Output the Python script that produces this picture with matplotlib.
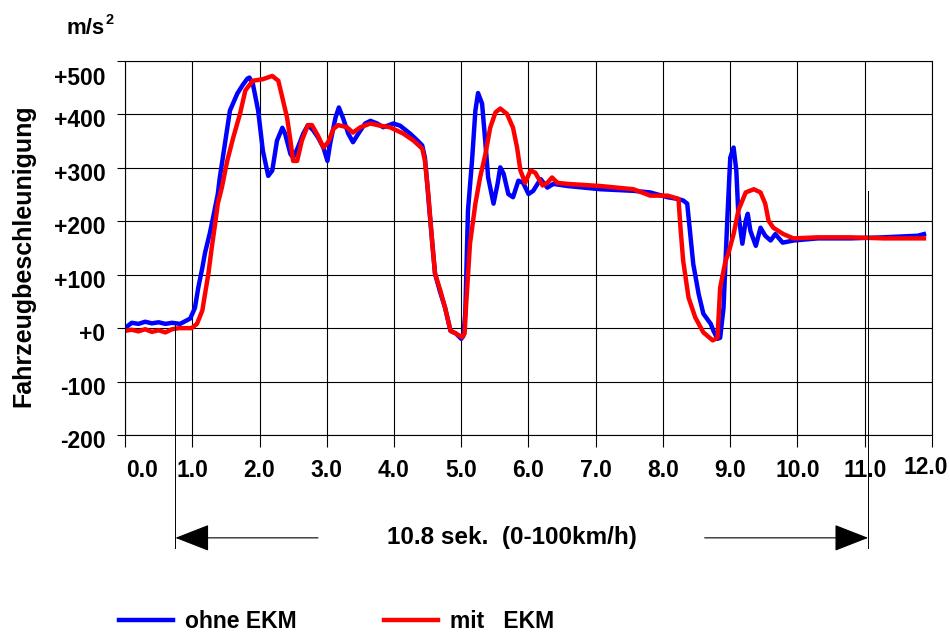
import matplotlib
matplotlib.use('Agg')
import matplotlib.pyplot as plt
from matplotlib.transforms import ScaledTranslation

plt.rcParams['font.family'] = ['Liberation Sans', 'DejaVu Sans']
plt.rcParams['font.weight'] = 'bold'

# Zeit (s) und Beschleunigung, ohne EKM (blau)
t_ohne = [0.0, 0.05, 0.1, 0.2, 0.3, 0.4, 0.5, 0.6, 0.7, 0.82, 0.97, 1.04, 1.09, 1.15,
          1.19, 1.26, 1.31, 1.38, 1.41, 1.56, 1.67, 1.75, 1.82, 1.85, 1.90, 1.98, 2.05,
          2.13, 2.19, 2.26, 2.34, 2.38, 2.46, 2.50, 2.57, 2.65, 2.72, 2.80, 2.87, 2.95,
          3.01, 3.05, 3.13, 3.18, 3.24, 3.32, 3.39, 3.47, 3.57, 3.65, 3.75, 3.84, 3.99,
          4.09, 4.24, 4.35, 4.42, 4.46, 4.49, 4.52, 4.57, 4.61, 4.68, 4.76, 4.84, 4.92,
          5.0, 5.03, 5.06, 5.10, 5.16, 5.21, 5.25, 5.31, 5.36, 5.40, 5.48, 5.54, 5.58,
          5.63, 5.70, 5.77, 5.85, 5.92, 6.00, 6.07, 6.18, 6.28, 6.37, 6.58, 7.07, 7.56,
          7.81, 8.07, 8.21, 8.30, 8.36, 8.41, 8.45, 8.53, 8.60, 8.71, 8.75, 8.81, 8.85,
          8.90, 8.96, 9.00, 9.05, 9.09, 9.12, 9.18, 9.23, 9.26, 9.30, 9.38, 9.45, 9.52,
          9.60, 9.67, 9.78, 9.94, 10.30, 10.79, 11.28, 11.79, 11.88]
a_ohne = [0, 5, 10, 8, 12, 9, 11, 8, 10, 8, 18, 38, 76, 113,
          141, 177, 207, 251, 282, 407, 439, 455, 467, 469, 458, 407, 332,
          285, 295, 351, 375, 364, 326, 319, 338, 364, 380, 370, 357, 338,
          313, 345, 394, 413, 394, 364, 348, 364, 383, 388, 383, 376, 383,
          379, 364, 351, 342, 319, 276, 230, 158, 102, 70, 38, -5, -10,
          -20, -15, 27, 220, 313, 407, 440, 420, 345, 282, 233, 270, 301,
          289, 251, 245, 276, 272, 251, 257, 279, 263, 270, 266, 260, 257,
          254, 245, 242, 239, 233, 170, 120, 64, 27, 8, -5, -20, -18,
          38, 214, 319, 338, 295, 214, 158, 201, 214, 182, 154, 188, 173,
          164, 176, 160, 164, 168, 168, 170, 173, 176]

# Zeit (s) und Beschleunigung, mit EKM (rot)
t_mit = [0.0, 0.1, 0.2, 0.3, 0.4, 0.5, 0.6, 0.7, 0.8, 0.99, 1.07, 1.15, 1.19, 1.24,
         1.29, 1.34, 1.38, 1.44, 1.52, 1.61, 1.71, 1.79, 1.90, 2.05, 2.19, 2.28, 2.35,
         2.41, 2.46, 2.50, 2.56, 2.63, 2.72, 2.78, 2.87, 2.95, 3.02, 3.10, 3.17, 3.30,
         3.39, 3.50, 3.65, 3.79, 3.94, 4.14, 4.29, 4.42, 4.46, 4.51, 4.57, 4.61, 4.69,
         4.76, 4.84, 4.92, 5.01, 5.05, 5.07, 5.13, 5.21, 5.28, 5.36, 5.43, 5.51, 5.58,
         5.68, 5.77, 5.83, 5.88, 5.95, 6.03, 6.10, 6.21, 6.28, 6.35, 6.43, 6.58, 7.07,
         7.56, 7.81, 8.07, 8.23, 8.26, 8.30, 8.38, 8.48, 8.60, 8.74, 8.81, 8.85, 8.93,
         8.97, 9.05, 9.12, 9.23, 9.35, 9.45, 9.52, 9.57, 9.64, 9.79, 9.94, 10.30, 10.79,
         11.28, 11.79, 11.88]
a_mit = [-5, -3, -6, -2, -7, -4, -8, -2, 0, 0, 8, 33, 64, 102,
         151, 195, 233, 263, 313, 357, 401, 445, 463, 466, 472, 463, 426,
         394, 351, 313, 313, 351, 380, 380, 360, 338, 348, 373, 380, 376,
         366, 376, 383, 379, 376, 364, 351, 336, 313, 251, 158, 102, 70,
         38, -5, -10, -17, -10, 38, 158, 233, 282, 326, 375, 404, 411,
         401, 375, 338, 295, 272, 295, 291, 267, 272, 282, 272, 270, 266,
         260, 248, 248, 242, 188, 126, 57, 20, -8, -23, -18, 76, 126,
         139, 176, 220, 254, 260, 254, 233, 201, 188, 176, 168, 170, 170,
         168, 168, 168]

x_ticks = list(range(0, 13))
x_labels = ['%.1f' % v for v in x_ticks]
y_ticks = [-200, -100, 0, 100, 200, 300, 400, 500]
y_labels = ['-200', '-100', '+0', '+100', '+200', '+300', '+400', '+500']

# Messbereich 0-100 km/h
t_start, t_end = 0.75, 11.05
arrow_text = '10.8 sek.  (0-100km/h)'

fig = plt.figure(figsize=(9.5, 6.32), dpi=100)
ax = fig.add_axes([125/950, 1 - 435/632, (932 - 125)/950, (435 - 61)/632])

ax.plot(t_ohne, a_ohne, color='#0000ff', lw=3.2, label='ohne EKM')
ax.plot(t_mit, a_mit, color='#ff0000', lw=3.2, label='mit   EKM')

ax.set_xlim(0, 12)
ax.set_ylim(-200, 500)
ax.set_xticks(x_ticks)
ax.set_xticklabels(x_labels)
ax.set_yticks(y_ticks)
ax.set_yticklabels(y_labels)
ax.grid(True, color='black', lw=0.8)
ax.set_axisbelow(True)
ax.tick_params(axis='x', direction='out', length=8.5, width=0.8, pad=9, labelsize=16.5)
ax.tick_params(axis='y', direction='out', length=6, width=0.8, pad=8, labelsize=16.5)
for s in ax.spines.values():
    s.set_linewidth(0.8)

# Beschriftungen leicht verschieben wie im Original
for lab in ax.get_yticklabels():
    dy = -0.15 if lab.get_text() == '+500' else -0.04
    lab.set_transform(lab.get_transform() + ScaledTranslation(0, dy, fig.dpi_scale_trans))
xl = ax.get_xticklabels()
xl[0].set_transform(xl[0].get_transform() + ScaledTranslation(0.17, 0, fig.dpi_scale_trans))
xl[-1].set_transform(xl[-1].get_transform() + ScaledTranslation(-0.06, 0.03, fig.dpi_scale_trans))

fig.text(23/950, 1 - 256/632, 'Fahrzeugbeschleunigung', rotation=90,
         ha='center', va='center', fontsize=18)
fig.text(66/950, 1 - 28/632, 'm/s', ha='left', va='center', fontsize=16)
fig.text(106/950, 1 - 20/632, '2', ha='left', va='center', fontsize=10.5)

# Messstrecke mit Pfeilen
trans = ax.get_xaxis_transform()
ax.plot([t_start, t_start], [0.294, -0.302], color='black', lw=0.7, transform=trans, clip_on=False)
ax.plot([t_end, t_end], [0.652, -0.302], color='black', lw=0.7, transform=trans, clip_on=False)
arrow_style = dict(arrowstyle='-|>,head_length=1.1,head_width=0.43', color='black',
                   lw=0.8, shrinkA=0, shrinkB=0, mutation_scale=20)
ax.annotate('', xy=(t_start, -0.275), xytext=(2.87, -0.275), xycoords=trans,
            textcoords=trans, arrowprops=arrow_style)
ax.annotate('', xy=(t_end, -0.275), xytext=(8.62, -0.275), xycoords=trans,
            textcoords=trans, arrowprops=arrow_style)
ax.text((t_start + t_end) / 2 - 0.14, -0.275, arrow_text, transform=trans,
        ha='center', va='center', fontsize=17.5)

fig.legend(loc='center left', bbox_to_anchor=(119/950, 1 - 622/632), ncol=2,
           frameon=False, fontsize=16.5, handlelength=2.36, handletextpad=0.5,
           columnspacing=3.85, borderaxespad=0, borderpad=0)

fig.savefig('out.png', dpi=100)
